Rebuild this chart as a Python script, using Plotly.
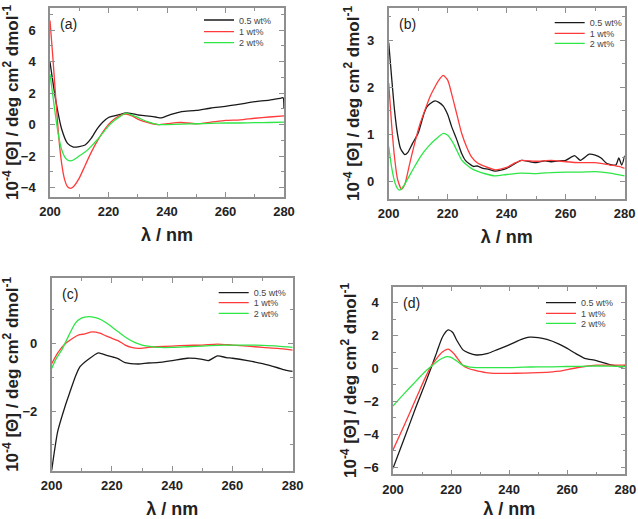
import plotly.graph_objects as go

# ---------- data (wavelength nm, 10^-4 [Theta]) ----------
# Panel (a)
a_black_x = [200, 202, 204, 206, 208, 210, 212, 214, 216, 218, 220, 222, 224, 226, 228, 230, 233, 236, 238, 240, 243, 245, 250, 255, 260, 265, 270, 275, 279, 279.7, 280]
a_black_y = [3.96, 1.5, -0.3, -1.2, -1.43, -1.4, -1.3, -0.9, -0.3, 0.15, 0.45, 0.55, 0.65, 0.74, 0.7, 0.62, 0.55, 0.48, 0.42, 0.55, 0.72, 0.82, 0.9, 1.05, 1.16, 1.3, 1.45, 1.55, 1.68, 1.7, 1.0]
a_red_x = [200, 201, 202, 203, 204, 205, 206, 207, 208, 210, 212, 214, 216, 218, 220, 222, 224, 226, 228, 230, 232, 235, 237, 240, 243, 245, 250, 255, 260, 265, 270, 275, 280]
a_red_y = [6.6, 4.2, 1.6, -0.8, -2.5, -3.5, -3.95, -4.05, -3.95, -3.4, -2.6, -1.8, -1.1, -0.5, 0.0, 0.35, 0.58, 0.67, 0.55, 0.35, 0.2, 0.05, 0.0, 0.05, 0.12, 0.13, 0.05, 0.15, 0.26, 0.3, 0.4, 0.48, 0.55]
a_green_x = [200, 201, 202, 203, 204, 205, 206, 207, 208, 210, 212, 214, 216, 218, 220, 222, 224, 226, 228, 230, 233, 237, 240, 245, 250, 255, 260, 265, 270, 275, 280]
a_green_y = [3.2, 1.8, 0.4, -0.8, -1.6, -2.05, -2.25, -2.3, -2.25, -2.0, -1.75, -1.4, -1.0, -0.55, -0.1, 0.25, 0.52, 0.72, 0.6, 0.45, 0.2, 0.0, 0.0, 0.03, 0.05, 0.08, 0.1, 0.1, 0.12, 0.13, 0.15]

# Panel (b)
b_black_x = [200, 201, 202, 203, 204, 205, 205.5, 206.5, 208, 210, 212, 213, 214, 215.7, 217, 218.5, 220, 221.3, 223, 224.7, 226, 228.7, 230, 232, 234, 236, 238, 240, 242, 245, 248, 250, 253, 255, 258, 260, 263, 265, 268, 270, 272, 274, 277, 278, 279, 280]
b_black_y = [2.95, 2.2, 1.5, 1.0, 0.7, 0.6, 0.57, 0.62, 0.8, 1.03, 1.45, 1.59, 1.65, 1.71, 1.68, 1.6, 1.42, 1.17, 0.9, 0.6, 0.45, 0.32, 0.33, 0.28, 0.26, 0.22, 0.24, 0.28, 0.35, 0.45, 0.42, 0.4, 0.44, 0.42, 0.44, 0.45, 0.55, 0.45, 0.58, 0.56, 0.5, 0.38, 0.35, 0.5, 0.35, 0.55]
b_red_x = [200, 201, 202, 203, 204.3, 205.5, 207, 208.8, 210.5, 212.3, 214, 215.7, 217, 218.5, 220, 221.3, 223, 224.7, 226.5, 228, 230, 232.6, 236, 240, 243, 245, 250, 255, 260, 265, 270, 275, 278, 280]
b_red_y = [2.09, 1.2, 0.5, 0.05, -0.16, -0.05, 0.35, 0.81, 1.2, 1.52, 1.8, 2.01, 2.15, 2.25, 2.15, 1.87, 1.45, 1.03, 0.72, 0.53, 0.4, 0.32, 0.25, 0.3, 0.4, 0.45, 0.43, 0.45, 0.42, 0.4, 0.4, 0.35, 0.32, 0.28]
b_green_x = [200, 201, 202, 203, 203.7, 205, 207, 208.8, 211, 213.4, 216, 218.5, 220, 222, 224.7, 226.5, 228, 230, 233, 236, 240, 245, 250, 255, 260, 265, 270, 275, 280]
b_green_y = [0.74, 0.3, 0.0, -0.15, -0.18, -0.1, 0.12, 0.32, 0.55, 0.74, 0.9, 1.02, 0.98, 0.8, 0.46, 0.35, 0.28, 0.22, 0.16, 0.12, 0.15, 0.18, 0.17, 0.19, 0.2, 0.2, 0.21, 0.18, 0.12]

# Panel (c)
c_black_x = [200, 202, 204.4, 206, 208, 209.4, 212.2, 215.5, 218, 220.5, 222, 224.4, 228.8, 232, 235, 240, 245, 250, 252, 255, 258, 260, 265, 270, 275, 278, 280]
c_black_y = [-3.75, -2.6, -1.87, -1.45, -0.95, -0.69, -0.47, -0.28, -0.35, -0.41, -0.45, -0.57, -0.61, -0.58, -0.57, -0.51, -0.44, -0.47, -0.51, -0.37, -0.42, -0.44, -0.51, -0.6, -0.72, -0.8, -0.83]
c_red_x = [200, 202, 204.4, 207, 209, 211, 213.4, 216, 218, 220, 222, 224.4, 226.5, 228.8, 232, 235, 240, 245, 250, 255, 260, 265, 270, 275, 280]
c_red_y = [-0.6, -0.28, -0.02, 0.15, 0.25, 0.28, 0.34, 0.3, 0.22, 0.15, 0.08, -0.05, -0.12, -0.15, -0.12, -0.1, -0.08, -0.06, -0.05, -0.02, -0.05, -0.08, -0.12, -0.15, -0.2]
c_green_x = [200, 201.5, 203.3, 205.5, 207.8, 210, 212.2, 214.5, 216.6, 219, 222.1, 225, 227.7, 230, 232, 236, 240, 245, 250, 255, 260, 265, 270, 275, 280]
c_green_y = [-0.74, -0.45, -0.2, 0.2, 0.59, 0.75, 0.79, 0.76, 0.69, 0.55, 0.34, 0.15, 0.02, -0.05, -0.08, -0.12, -0.12, -0.1, -0.08, -0.06, -0.05, -0.05, -0.06, -0.08, -0.12]

# Panel (d)
d_black_x = [200, 204, 208, 211, 213.2, 215, 217, 219, 220.5, 222, 224.1, 226, 228.7, 232.7, 236, 240, 244, 247, 250, 253, 257, 260, 263, 266, 270, 275, 279, 280]
d_black_y = [-6.06, -4.2, -2.3, -0.95, 0.08, 0.95, 1.9, 2.34, 2.2, 1.7, 1.13, 0.95, 0.82, 0.92, 1.15, 1.43, 1.75, 1.9, 1.88, 1.77, 1.5, 1.22, 0.9, 0.62, 0.48, 0.22, 0.1, 0.2]
d_red_x = [200, 204, 208, 211, 213, 215, 217, 219, 221, 224, 226, 228, 232, 236, 240, 245, 250, 255, 258, 262, 266, 270, 275, 280]
d_red_y = [-4.95, -3.4, -1.8, -0.6, 0.1, 0.6, 1.0, 1.18, 0.9, 0.2, 0.0, -0.1, -0.25, -0.3, -0.3, -0.28, -0.25, -0.2, -0.15, 0.0, 0.12, 0.2, 0.2, 0.2]
d_green_x = [200, 204, 208, 211, 213, 215, 217, 218.5, 220, 222, 224, 226, 230, 235, 240, 245, 250, 255, 260, 265, 270, 275, 280]
d_green_y = [-2.28, -1.5, -0.75, -0.2, 0.1, 0.4, 0.62, 0.72, 0.68, 0.45, 0.2, 0.1, 0.05, 0.05, 0.05, 0.08, 0.1, 0.1, 0.12, 0.13, 0.15, 0.14, 0.12]

series_names = ["0.5 wt%", "1 wt%", "2 wt%"]
colors = ["#1a1a1a", "#ff3b3b", "#2ee646"]
panel_labels = ["(a)", "(b)", "(c)", "(d)"]
x_ticks = [200, 220, 240, 260, 280]

panels = [
    [(a_black_x, a_black_y), (a_red_x, a_red_y), (a_green_x, a_green_y)],
    [(b_black_x, b_black_y), (b_red_x, b_red_y), (b_green_x, b_green_y)],
    [(c_black_x, c_black_y), (c_red_x, c_red_y), (c_green_x, c_green_y)],
    [(d_black_x, d_black_y), (d_red_x, d_red_y), (d_green_x, d_green_y)],
]
y_ranges = [[-4.6, 7.4], [-0.37, 3.68], [-3.76, 1.93], [-6.43, 4.97]]
y_dtick = [2, 1, 2, 2]

W, H = 638, 519
# pixel boxes: left, right, top, bottom
boxes = [(50, 284, 8, 197), (388.7, 624.7, 8, 199), (51.7, 292.7, 278, 470.7), (393, 625.3, 286.7, 474.3)]
# legend text start x and row centres (pixels)
legend_text_x = [241, 591.7, 255.7, 583]
legend_rows = [[20, 31.7, 42.7], [22.7, 33.3, 43.3], [292.7, 302.7, 313.3], [302.7, 313.3, 323.3]]

fig = go.Figure()
layout = dict(width=W, height=H, margin=dict(l=0, r=0, t=0, b=0),
              paper_bgcolor="white", plot_bgcolor="white", showlegend=True,
              font=dict(family="Arial, Liberation Sans, sans-serif", color="#222"))
k = 0
for p, data in enumerate(panels):
    xa = "x" if p == 0 else f"x{p+1}"
    ya = "y" if p == 0 else f"y{p+1}"
    for s, (xs, ys) in enumerate(data):
        k += 1
        lk = "legend" if k == 1 else f"legend{k}"
        fig.add_trace(go.Scatter(
            x=xs, y=ys, mode="lines", name=series_names[s],
            line=dict(color=colors[s], width=1.3, shape="spline", smoothing=0.6),
            xaxis=xa, yaxis=ya, legend=lk))
        layout[lk] = dict(x=(legend_text_x[p] - 42) / W, y=1 - legend_rows[p][s] / H,
                          xref="paper", yref="paper",
                          xanchor="left", yanchor="middle",
                          bgcolor="rgba(0,0,0,0)", borderwidth=0,
                          font=dict(size=9, color="#444"), itemwidth=30)

ytitle = "10<sup>-4</sup> [Θ] / deg cm<sup>2</sup> dmol<sup>-1</sup>"
annotations = []
for p, (l, r, t, b) in enumerate(boxes):
    sx = "" if p == 0 else str(p + 1)
    xdom = [l / W, r / W]
    ydom = [1 - b / H, 1 - t / H]
    common = dict(showline=True, linecolor="#8f8f8f", linewidth=1.5, mirror="ticks",
                  ticks="inside", ticklen=5, tickwidth=1, tickcolor="#8f8f8f",
                  showgrid=False, zeroline=False, automargin=False,
                  tickfont=dict(size=13, weight="bold", color="#222"))
    layout["xaxis" + sx] = dict(common, domain=xdom, range=[200, 280], tickvals=x_ticks,
                                anchor="y" + sx, ticklabelstandoff=2,
                                minor=dict(dtick=10, ticks="inside", ticklen=3, tickcolor="#8f8f8f"),
                                title=dict(text="λ / nm", font=dict(size=18, weight="bold", color="#222"), standoff=10))
    layout["yaxis" + sx] = dict(common, domain=ydom, range=y_ranges[p], dtick=y_dtick[p], tick0=0,
                                anchor="x" + sx, ticklabelstandoff=10,
                                minor=dict(dtick=y_dtick[p] / 2, ticks="inside", ticklen=3, tickcolor="#8f8f8f"),
                                title=dict(text=ytitle, font=dict(size=17, weight="bold", color="#222"), standoff=3))
    annotations.append(dict(text=panel_labels[p], xref="paper", yref="paper",
                            x=(l + 8) / W, y=1 - (t + 16) / H, xanchor="left", yanchor="middle",
                            showarrow=False, font=dict(size=14, color="#222")))
layout["annotations"] = annotations
fig.update_layout(**layout)
fig.write_html("out.html", config={"displayModeBar": False},
               post_script="document.body.style.margin='0';document.body.style.overflow='hidden';")
